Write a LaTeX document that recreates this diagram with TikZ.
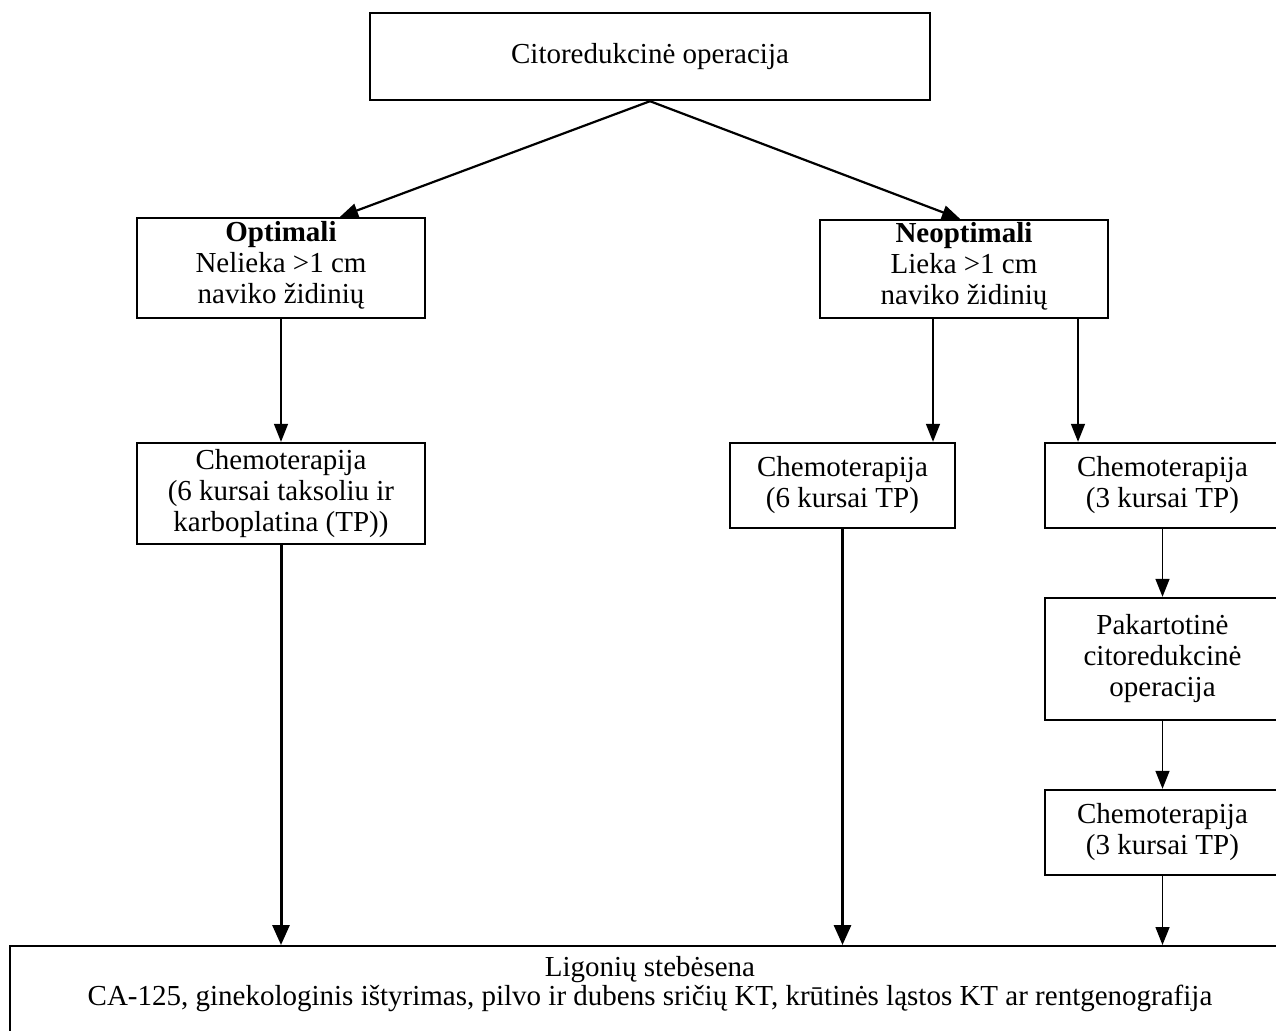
\documentclass[tikz,border=0pt]{standalone}
\usepackage{fontspec}
\setmainfont{Liberation Serif}
\usetikzlibrary{arrows.meta}

\begin{document}
\begin{tikzpicture}[x=0.5pt,y=-0.5pt,
  box/.style={draw,line width=1.2pt,rectangle,align=center,inner sep=0pt,
    font=\fontsize{14.5}{15.5}\selectfont},
  thin arrow/.style={line width=0.7pt,-{Triangle[length=9pt,width=7pt]}},
  thick arrow/.style={line width=1.5pt,-{Triangle[length=10pt,width=8.5pt]}}]
\useasboundingbox (0,0) rectangle (1276,1030);
\node[box,minimum width=280pt,minimum height=43.5pt] (cito)    at (650,56.5)   {Citoredukcinė operacija};
\node[box,minimum width=144pt,minimum height=50pt]   (opt)     at (281,268)    {\textbf{Optimali}\\Nelieka >1 cm\\naviko židinių\rule[-6pt]{0pt}{1pt}};
\node[box,minimum width=144pt,minimum height=49pt]   (neopt)   at (964,269)    {\textbf{Neoptimali}\\Lieka >1 cm\\naviko židinių\rule[-6pt]{0pt}{1pt}};
\node[box,minimum width=144pt,minimum height=50.5pt] (chemoA)  at (281,493.5)  {Chemoterapija\\(6 kursai taksoliu ir\\karboplatina (TP))};
\node[box,minimum width=112.5pt,minimum height=42.5pt] (chemoB) at (842.5,485.5) {Chemoterapija\\(6 kursai TP)};
\node[box,minimum width=117.5pt,minimum height=42.5pt] (chemoC) at (1162.5,485.5) {Chemoterapija\\(3 kursai TP)};
\node[box,minimum width=117.5pt,minimum height=61pt] (repeat)  at (1162.5,659)  {Pakartotinė\\citoredukcinė\\operacija};
\node[box,minimum width=117.5pt,minimum height=42.5pt] (chemoD) at (1162.5,832.5) {Chemoterapija\\(3 kursai TP)};
\node[box,minimum width=640pt,minimum height=60pt,anchor=north] (follow) at (650,945) {};
\node[align=center,anchor=north,inner sep=0pt,font=\fontsize{14.5}{14.5}\selectfont] (followtxt) at (650,956)
  {Ligonių stebėsena\\CA-125, ginekologinis ištyrimas, pilvo ir dubens sričių KT, krūtinės ląstos KT ar rentgenografija};
% pirmas lygis
\draw[line width=1.1pt,-{Triangle[length=9pt,width=7pt]}] (cito.south) -- ([xshift=29.5pt]opt.north);
\draw[line width=1.1pt,-{Triangle[length=9pt,width=7pt]}] (cito.south) -- ([xshift=-2pt]neopt.north);
% trumpos rodykles
\draw[thin arrow] (opt.south) -- (chemoA.north);
\draw[thin arrow] ([xshift=-15.5pt]neopt.south) -- ([xshift=-15.5pt]neopt.south |- chemoB.north);
\draw[thin arrow] ([xshift=57pt]neopt.south) -- ([xshift=57pt]neopt.south |- chemoC.north);
\draw[thin arrow] (chemoC.south) -- (repeat.north);
\draw[thin arrow] (repeat.south) -- (chemoD.north);
\draw[thin arrow] (chemoD.south) -- (chemoD.south |- follow.north);
% ilgos rodykles
\draw[thick arrow] (chemoA.south) -- (chemoA.south |- follow.north);
\draw[thick arrow] (chemoB.south) -- (chemoB.south |- follow.north);
\end{tikzpicture}
\end{document}
